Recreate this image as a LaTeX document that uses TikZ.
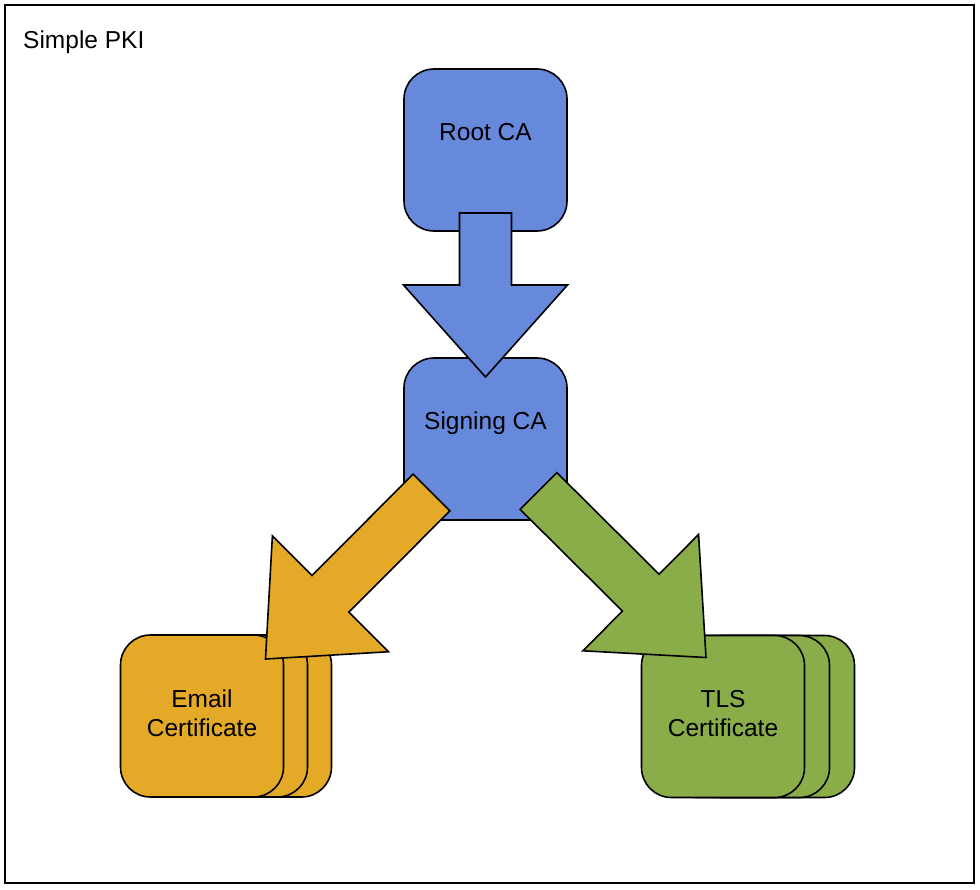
\documentclass[tikz,border=0pt]{standalone}
\usepackage{fontspec}
\setmainfont{Liberation Sans}
\usetikzlibrary{calc}

\definecolor{cablue}{RGB}{103,137,220}
\definecolor{certorange}{RGB}{228,170,39}
\definecolor{certgreen}{RGB}{138,173,73}

\tikzset{
  box/.style={draw=black, line width=1.6pt, rounded corners=30pt, outer sep=0pt, inner sep=0pt,
    minimum width=163pt, minimum height=162pt, font=\fontsize{24.5}{29}\selectfont},
  cabox/.style={box, fill=cablue, text height=17pt, text depth=36pt},
  certbox/.style={box},
  blockarrow/.style={draw=black, line width=1.6pt, line join=miter}
}

% block arrow: tail, tip, colour
\newcommand{\pkiarrow}[3]{%
  \coordinate (hb) at ($(#2)!92pt!(#1)$);
  \draw[blockarrow, fill=#3] ($(#1)!26pt!90:(#2)$) -- ($(hb)!26pt!90:(#2)$) -- ($(hb)!82pt!90:(#2)$)
    -- (#2) -- ($(hb)!82pt!-90:(#2)$) -- ($(hb)!26pt!-90:(#2)$) -- ($(#1)!26pt!-90:(#2)$) -- cycle;
}
% two-line certificate text, set a little high
\newcommand{\certtext}[2]{\raisebox{8pt}{\begin{tabular}{@{}c@{}}#1\\#2\end{tabular}}}

\begin{document}
\begin{tikzpicture}[x=1pt, y=-1pt]
  \useasboundingbox (0,0) rectangle (980,889);

  % Frame
  \node (pki) [draw=black, line width=1.6pt, minimum width=969pt, minimum height=878pt] at (489.5,444) {};
  \node (title) [anchor=base west, inner sep=0pt, font=\fontsize{24.5}{29}\selectfont] at (23,48.5) {Simple PKI};

  % CAs
  \node (root) [cabox] at (485.5,150) {Root CA};
  \node (sign) [cabox] at (485.5,439) {Signing CA};

  % Email certificates (stack)
  \node (email3) [certbox, fill=certorange] at (250,716) {};
  \node (email2) [certbox, fill=certorange] at (226,716) {};
  \node (email) [certbox, fill=certorange] at (202,716) {\certtext{Email}{Certificate}};

  % TLS certificates (stack)
  \node (tls3) [certbox, fill=certgreen] at (773,716.5) {};
  \node (tls2) [certbox, fill=certgreen] at (748,716.5) {};
  \node (tls) [certbox, fill=certgreen] at (723,716.5) {\certtext{TLS}{Certificate}};

  % Arrows
  \coordinate (r1) at ($(root.south)+(0,-18)$);
  \coordinate (r2) at ($(sign.north)+(0,19)$);
  \pkiarrow{r1}{r2}{cablue}

  \coordinate (e1) at ($(sign.south west)+(27.5,-27.5)$);
  \coordinate (e2) at ($(email.north east)+(-18,24)$);
  \pkiarrow{e1}{e2}{certorange}

  \coordinate (t1) at ($(sign.south east)+(-28.5,-29)$);
  \coordinate (t2) at ($(tls.north)+(-17,22)$);
  \pkiarrow{t1}{t2}{certgreen}
\end{tikzpicture}
\end{document}
